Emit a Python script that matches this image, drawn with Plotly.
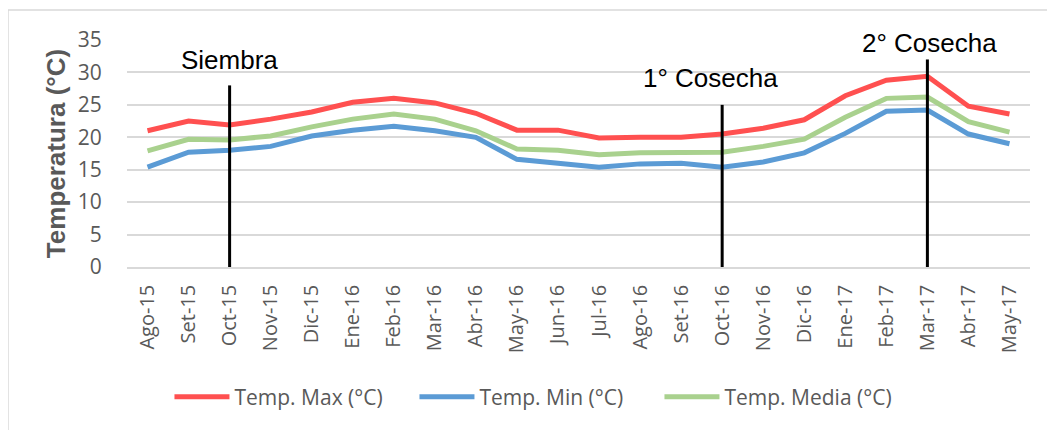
import plotly.graph_objects as go

months = ["Ago-15", "Set-15", "Oct-15", "Nov-15", "Dic-15", "Ene-16", "Feb-16", "Mar-16",
          "Abr-16", "May-16", "Jun-16", "Jul-16", "Ago-16", "Set-16", "Oct-16", "Nov-16",
          "Dic-16", "Ene-17", "Feb-17", "Mar-17", "Abr-17", "May-17"]
temp_max = [21.0, 22.5, 21.9, 22.8, 23.9, 25.4, 26.0, 25.3, 23.7, 21.1, 21.1, 19.9,
            20.0, 20.0, 20.5, 21.4, 22.7, 26.4, 28.8, 29.4, 24.8, 23.6]
temp_min = [15.4, 17.7, 18.0, 18.6, 20.2, 21.1, 21.7, 21.0, 20.0, 16.6, 16.0, 15.4,
            15.9, 16.0, 15.4, 16.2, 17.6, 20.6, 24.0, 24.2, 20.5, 19.0]
temp_media = [17.9, 19.7, 19.6, 20.2, 21.6, 22.8, 23.6, 22.8, 21.0, 18.2, 18.0, 17.3,
              17.6, 17.6, 17.7, 18.6, 19.7, 23.1, 26.0, 26.2, 22.4, 20.8]

event_months = ["Oct-15", "Oct-16", "Mar-17"]
event_tops = [28, 25, 32]
event_labels = ["Siembra", "1° Cosecha", "2° Cosecha"]
event_label_y = [31.9, 29.1, 34.5]
event_label_xshift = [0, -12, 2]

fig = go.Figure()
series = [("Temp. Max (°C)", temp_max, "#FF5050"),
          ("Temp. Min (°C)", temp_min, "#5B9BD5"),
          ("Temp. Media (°C)", temp_media, "#A9D18E")]
for name, vals, col in series:
    fig.add_trace(go.Scatter(x=months, y=vals, mode="lines", name=name,
                             line=dict(color=col, width=5)))

for m, top, lab, ly, xs in zip(event_months, event_tops, event_labels, event_label_y,
                               event_label_xshift):
    fig.add_trace(go.Scatter(x=[m, m], y=[0, top], mode="lines", showlegend=False,
                             hoverinfo="skip", line=dict(color="black", width=3)))
    fig.add_annotation(x=m, y=ly, text=lab, showarrow=False, xshift=xs,
                       font=dict(family="Liberation Sans, Arial", size=26, color="black"))

fig.update_layout(
    width=1055, height=430,
    margin=dict(l=119, r=33, t=32, b=171),
    paper_bgcolor="white", plot_bgcolor="white",
    font=dict(family="Open Sans, sans-serif", color="#595959"),
    legend=dict(orientation="h", x=0.454, xanchor="center", y=-0.573, yanchor="middle",
                font=dict(size=21, color="#595959"), itemwidth=55, traceorder="normal",
                entrywidth=175, entrywidthmode="pixels"),
    showlegend=True,
)
fig.update_xaxes(type="category", tickangle=-90, tickfont=dict(size=20, color="#595959"),
                 showgrid=False, showline=True, linecolor="#D9D9D9", linewidth=1.5,
                 ticks="outside", ticklen=8, tickcolor="rgba(0,0,0,0)",
                 range=[-0.5, len(months) - 0.5])
fig.update_yaxes(range=[0, 35], dtick=5, tickfont=dict(size=21, color="#595959"),
                 showgrid=True, gridcolor="#D9D9D9", gridwidth=1.5, zeroline=False,
                 showline=False, ticks="outside", ticklen=20, tickcolor="rgba(0,0,0,0)",
                 title=dict(text="<b>Temperatura (°C)</b>", standoff=4,
                            font=dict(family="Liberation Sans, Arial", size=26, color="#595959")))
fig.add_shape(type="rect", xref="paper", yref="paper", x0=-0.1318, x1=1.05, y0=-0.8, y1=1.132,
              line=dict(color="#D9D9D9", width=1.5), fillcolor="rgba(0,0,0,0)", layer="below")

fig.write_html("out.html")
